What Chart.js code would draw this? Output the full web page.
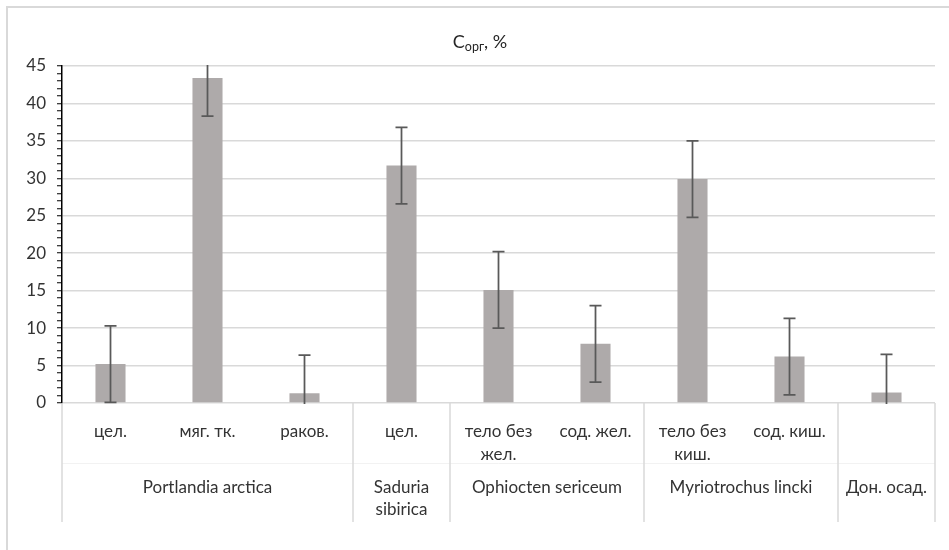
<!DOCTYPE html>
<html>
<head>
<meta charset="utf-8">
<script src="https://cdn.jsdelivr.net/npm/chart.js@4.4.1/dist/chart.umd.min.js"></script>
<style>
  html, body { margin: 0; padding: 0; background: #fff; overflow: hidden; }
  #wrap { position: relative; width: 949px; height: 550px; overflow: hidden; }
  #frame { position: absolute; left: 6px; top: 6px; width: 1000px; height: 600px;
           border: 2px solid #d9d9d9; box-sizing: border-box; }
  canvas { position: absolute; left: 0; top: 0; }
</style>
</head>
<body>
<div id="wrap">
  <div id="frame"></div>
  <canvas id="chart" width="949" height="550"></canvas>
</div>
<script>
// sub-category labels (already wrapped the way the picture shows them)
const subLabels = [["цел."], ["мяг. тк."], ["раков."], ["цел."], ["тело без", "жел."],
                   ["сод. жел."], ["тело без", "киш."], ["сод. киш."], [""]];
const groupLabels = [["Portlandia arctica"], ["Saduria", "sibirica"], ["Ophiocten sericeum"],
                     ["Myriotrochus lincki"], ["Дон. осад."]];
const groupSizes = [3, 1, 2, 2, 1];

const values = [5.2, 43.4, 1.3, 31.7, 15.1, 7.9, 29.9, 6.2, 1.4];
const errors = [5.1, 5.1, 5.1, 5.1, 5.1, 5.1, 5.1, 5.1, 5.1];

const yMin = 0, yMax = 45, yMajorStep = 5, yMinorStep = 1;

const FONT = "Lato, 'Open Sans', sans-serif";
const TEXT = "#333333";
const LINE = "#d9d9d9";

const errorBars = {
  id: "errorBars",
  afterDatasetsDraw(chart) {
    const { ctx, chartArea: a, scales: { x, y } } = chart;
    ctx.save();
    ctx.beginPath();
    ctx.rect(a.left, a.top - 1, a.right - a.left, a.bottom - a.top + 2);
    ctx.clip();
    ctx.strokeStyle = "#595959";
    ctx.lineWidth = 1.75;
    values.forEach((v, i) => {
      const px = x.getPixelForValue(i);
      const top = y.getPixelForValue(v + errors[i]);
      const bot = y.getPixelForValue(v - errors[i]);
      ctx.beginPath();
      ctx.moveTo(px, top); ctx.lineTo(px, bot);
      ctx.moveTo(px - 6, top); ctx.lineTo(px + 6, top);
      ctx.moveTo(px - 6, bot); ctx.lineTo(px + 6, bot);
      ctx.stroke();
    });
    ctx.restore();
  }
};

const multiLevelAxis = {
  id: "multiLevelAxis",
  afterDraw(chart) {
    const { ctx, chartArea: a, scales: { x } } = chart;
    const half = (x.getPixelForValue(1) - x.getPixelForValue(0)) / 2;
    const bottom = a.bottom + 119;
    ctx.save();

    // faint line between the two label rows
    ctx.strokeStyle = "#f2f2f2";
    ctx.lineWidth = 1;
    ctx.beginPath();
    ctx.moveTo(a.left, a.bottom + 60.5); ctx.lineTo(a.right, a.bottom + 60.5);
    ctx.stroke();

    ctx.font = "17px " + FONT;
    ctx.fillStyle = TEXT;
    ctx.textAlign = "center";
    ctx.textBaseline = "middle";

    subLabels.forEach((lines, i) => {
      const px = x.getPixelForValue(i);
      lines.forEach((t, k) => ctx.fillText(t, px, a.bottom + 29 + k * 23));
    });

    ctx.strokeStyle = LINE;
    ctx.lineWidth = 1.5;
    let start = 0;
    const edges = [x.getPixelForValue(0) - half];
    groupSizes.forEach((n, g) => {
      const left = x.getPixelForValue(start) - half;
      const right = x.getPixelForValue(start + n - 1) + half;
      edges.push(right);
      groupLabels[g].forEach((t, k) => ctx.fillText(t, (left + right) / 2, a.bottom + 85 + k * 22));
      start += n;
    });
    edges.forEach(e => {
      ctx.beginPath();
      ctx.moveTo(e, a.bottom); ctx.lineTo(e, bottom);
      ctx.stroke();
    });

    // title  C(орг), %
    const big = "18px " + FONT, small = "12.5px " + FONT;
    ctx.textAlign = "left";
    ctx.textBaseline = "alphabetic";
    ctx.fillStyle = "#262626";
    ctx.font = big; const w1 = ctx.measureText("C").width, w3 = ctx.measureText(", %").width;
    ctx.font = small; const w2 = ctx.measureText("орг").width;
    let tx = 480 - (w1 + w2 + w3) / 2;
    ctx.font = big; ctx.fillText("C", tx, 48); tx += w1;
    ctx.font = small; ctx.fillText("орг", tx, 51); tx += w2;
    ctx.font = big; ctx.fillText(", %", tx, 48);

    ctx.restore();
  }
};

new Chart(document.getElementById("chart"), {
  type: "bar",
  data: {
    labels: subLabels.map(l => l.join(" ")),
    datasets: [{
      data: values,
      backgroundColor: "#aeaaaa",
      categoryPercentage: 1,
      barPercentage: 0.31
    }]
  },
  options: {
    responsive: false,
    animation: false,
    layout: { padding: { left: 0, top: 66, right: 14, bottom: 147 } },
    plugins: { legend: { display: false }, tooltip: { enabled: false }, title: { display: false } },
    scales: {
      x: { display: false },
      y: {
        min: yMin,
        max: yMax,
        afterFit(scale) { scale.width = 62; },
        border: { display: true, color: "#000", width: 1.5 },
        grid: {
          color: c => (c.tick && c.tick.value % yMajorStep === 0) ? LINE : "rgba(0,0,0,0)",
          lineWidth: 1.5,
          drawTicks: true,
          tickLength: 5,
          tickColor: "#000",
          tickWidth: 1
        },
        ticks: {
          stepSize: yMinorStep,
          autoSkip: false,
          padding: 11,
          color: TEXT,
          font: { family: FONT, size: 17 },
          callback: v => (v % yMajorStep === 0 ? v : "")
        }
      }
    }
  },
  plugins: [errorBars, multiLevelAxis]
});
</script>
</body>
</html>
